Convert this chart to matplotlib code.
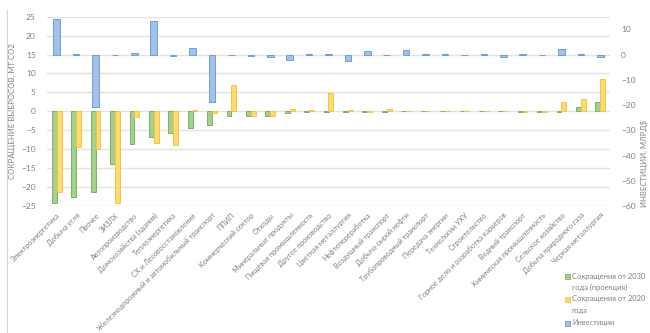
import numpy as np
import matplotlib
matplotlib.use("Agg")
import matplotlib.pyplot as plt
from matplotlib.patches import Rectangle
from matplotlib.lines import Line2D

plt.rcParams['font.family'] = ['Lato', 'DejaVu Sans']

# Data
categories = ['Электроэнергетика', 'Добыча угля', 'Прочее', 'ЗИЗЛХ', 'Автопроизводство',
              'Домохозяйства (здания)', 'Теплоэнергетика', 'СХ и Лесовосстановление',
              'Железнодорожный и автомобильный транспорт', 'ППИП', 'Коммерческий сектор',
              'Отходы', 'Минеральные продукты', 'Пищевая промышленность', 'Другое производство',
              'Цветная металлургия', 'Нефтепереработка', 'Воздушный транспорт',
              'Добыча сырой нефти', 'Трубопроводный транспорт', 'Передача энергии',
              'Технологии УХУ', 'Строительство', 'Горное дело и разработка карьеров',
              'Водный транспорт', 'Химическая промышленность', 'Сельское хозяйство',
              'Добыча природного газа', 'Черная металлургия']
cut_2030 = [-24.3, -22.5, -21.2, -13.9, -8.6, -6.8, -5.7, -4.5, -3.5, -1.3, -1.1, -1.1,
            -0.5, -0.3, -0.3, -0.3, -0.3, -0.3, 0, 0, 0, 0, 0, 0, -0.2, -0.2, -0.1, 1.1, 2.5]
cut_2020 = [-21.3, -9.3, -9.9, -24.1, -1.4, -8.3, -9.0, 0.3, -0.4, 7.0, -1.1, -1.1,
            0.6, 0.3, 4.8, 0.3, -0.2, 0.6, 0, 0, 0, 0, 0, 0, -0.2, -0.2, 2.4, 3.3, 8.6]
invest = [13.9, 0.2, -20.7, 0, 0.8, 13.3, -0.4, 2.6, -18.9, 0, -0.5, -0.8,
          -2.2, 0.3, 0.2, -2.5, 1.3, 0, 1.7, 0.4, 0.2, 0, 0.3, -0.9, 0.3, -0.3, 2.4, 0.3, -0.8]
left_ticks = [-25, -20, -15, -10, -5, 0, 5, 10, 15, 20, 25]
right_ticks = [-60, -50, -40, -30, -20, -10, 0, 10]

green_face, green_edge = '#a3d08a', '#7db45f'
yellow_face, yellow_edge = '#ffda72', '#f6c343'
blue_face, blue_edge = '#a2c2ea', '#6e9fd9'
text_gray = '#808080'

fig = plt.figure(figsize=(6.5, 3.33), dpi=100)
ax = fig.add_axes([47 / 650, 1 - 206 / 333, 563 / 650, (206 - 16.7) / 333])
ax2 = ax.twinx()

x = np.arange(len(categories))
w = 0.25
ax.bar(x - w / 2, cut_2030, w, color=green_face, edgecolor=green_edge, linewidth=0.7, zorder=3)
ax.bar(x + w / 2, cut_2020, w, color=yellow_face, edgecolor=yellow_edge, linewidth=0.7, zorder=3)
ax2.bar(x, invest, 0.34, color=blue_face, edgecolor=blue_edge, linewidth=0.7, zorder=3)

ax.set_xlim(-0.5, len(categories) - 0.5)
ax.set_ylim(-25, 25)
ax2.set_ylim(-60, 15)
ax.set_yticks(left_ticks)
ax2.set_yticks(right_ticks)
ax.grid(axis='y', color='#e3e3e3', linewidth=1.0, zorder=0)
ax.set_axisbelow(True)

for a in (ax, ax2):
    for s in a.spines.values():
        s.set_visible(False)
ax.tick_params(axis='y', length=0, labelsize=6, labelcolor=text_gray, pad=8)
ax2.tick_params(axis='y', length=0, labelsize=6, labelcolor=text_gray, pad=8)
ax.set_xticks(x)
ax.set_xticklabels(categories, rotation=45, ha='right', va='top', rotation_mode='anchor',
                   fontsize=5.2, color=text_gray)
ax.tick_params(axis='x', length=0, pad=4)

fig.text(12 / 650, 1 - 111 / 333, 'СОКРАЩЕНИЕ ВЫБРОСОВ, МТ СО2', rotation=90,
         ha='center', va='center', fontsize=5.6, color=text_gray)
fig.text(644 / 650, 1 - 163 / 333, 'ИНВЕСТИЦИИ, МЛРД$', rotation=90,
         ha='center', va='center', fontsize=5.6, color=text_gray)

# chart frame edge on the left
fig.add_artist(Line2D([7 / 650, 7 / 650], [0, 1 - 10 / 333], color='#d9d9d9', linewidth=0.8))

# legend
legend_items = [(green_face, green_edge, 276, ['Сокращения от 2030', 'года (проекция)']),
                (yellow_face, yellow_edge, 299, ['Сокращения от 2020', 'года']),
                (blue_face, blue_edge, 323, ['Инвестиции'])]
for face, edge, ypix, lines in legend_items:
    fig.add_artist(Rectangle((565 / 650, 1 - (ypix + 2.5) / 333), 5 / 650, 5 / 333,
                             facecolor=face, edgecolor=edge, linewidth=0.6,
                             transform=fig.transFigure))
    for i, line in enumerate(lines):
        fig.text(572 / 650, 1 - (ypix + 11 * i) / 333, line, ha='left', va='center',
                 fontsize=5.4, color=text_gray)

fig.savefig('out.png', dpi=100)
